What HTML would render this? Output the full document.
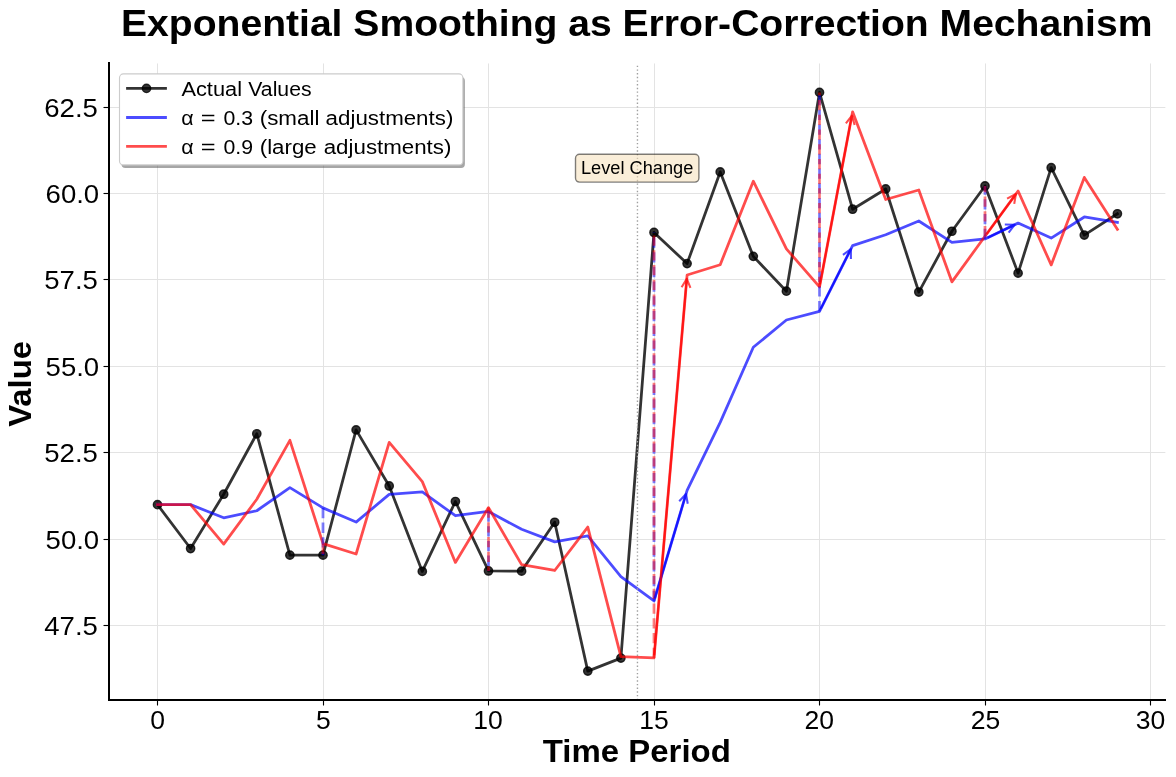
<!DOCTYPE html>
<html><head><meta charset="utf-8"><style>
html,body{margin:0;padding:0;background:#fff;overflow:hidden;width:1176px;height:777px;}
svg{display:block;will-change:transform;}
text{font-family:"Liberation Sans", sans-serif;fill:#000;}
</style></head><body>
<svg width="1176" height="777" viewBox="0 0 1176 777">
<rect width="1176" height="777" fill="#fff"/>
<line x1="157.50" y1="63.48" x2="157.50" y2="700.05" stroke="#e3e3e3" stroke-width="1"/>
<line x1="323.50" y1="63.48" x2="323.50" y2="700.05" stroke="#e3e3e3" stroke-width="1"/>
<line x1="488.50" y1="63.48" x2="488.50" y2="700.05" stroke="#e3e3e3" stroke-width="1"/>
<line x1="654.50" y1="63.48" x2="654.50" y2="700.05" stroke="#e3e3e3" stroke-width="1"/>
<line x1="819.50" y1="63.48" x2="819.50" y2="700.05" stroke="#e3e3e3" stroke-width="1"/>
<line x1="985.50" y1="63.48" x2="985.50" y2="700.05" stroke="#e3e3e3" stroke-width="1"/>
<line x1="1150.50" y1="63.48" x2="1150.50" y2="700.05" stroke="#e3e3e3" stroke-width="1"/>
<line x1="109.50" y1="625.50" x2="1165.39" y2="625.50" stroke="#e3e3e3" stroke-width="1"/>
<line x1="109.50" y1="539.50" x2="1165.39" y2="539.50" stroke="#e3e3e3" stroke-width="1"/>
<line x1="109.50" y1="452.50" x2="1165.39" y2="452.50" stroke="#e3e3e3" stroke-width="1"/>
<line x1="109.50" y1="366.50" x2="1165.39" y2="366.50" stroke="#e3e3e3" stroke-width="1"/>
<line x1="109.50" y1="279.50" x2="1165.39" y2="279.50" stroke="#e3e3e3" stroke-width="1"/>
<line x1="109.50" y1="193.50" x2="1165.39" y2="193.50" stroke="#e3e3e3" stroke-width="1"/>
<line x1="109.50" y1="107.50" x2="1165.39" y2="107.50" stroke="#e3e3e3" stroke-width="1"/>
<polyline points="157.50,504.66 190.60,548.52 223.70,494.23 256.80,433.78 289.90,555.14 323.00,555.14 356.10,429.90 389.20,485.96 422.30,571.39 455.40,501.50 488.50,570.97 521.60,571.13 554.70,522.26 587.80,671.11 620.90,658.10 654.00,232.47 687.10,263.59 720.20,171.93 753.30,256.35 786.40,291.18 819.50,92.41 852.60,209.23 885.70,188.97 918.80,292.04 951.90,231.24 985.00,185.98 1018.10,273.13 1051.20,167.69 1084.30,235.12 1117.40,213.78" fill="none" stroke="#000" stroke-opacity="0.8" stroke-width="2.78" stroke-linejoin="round" stroke-linecap="square"/>
<circle cx="157.50" cy="504.66" r="4.17" fill="#000" fill-opacity="0.8" stroke="#000" stroke-opacity="0.8" stroke-width="1.39"/>
<circle cx="190.60" cy="548.52" r="4.17" fill="#000" fill-opacity="0.8" stroke="#000" stroke-opacity="0.8" stroke-width="1.39"/>
<circle cx="223.70" cy="494.23" r="4.17" fill="#000" fill-opacity="0.8" stroke="#000" stroke-opacity="0.8" stroke-width="1.39"/>
<circle cx="256.80" cy="433.78" r="4.17" fill="#000" fill-opacity="0.8" stroke="#000" stroke-opacity="0.8" stroke-width="1.39"/>
<circle cx="289.90" cy="555.14" r="4.17" fill="#000" fill-opacity="0.8" stroke="#000" stroke-opacity="0.8" stroke-width="1.39"/>
<circle cx="323.00" cy="555.14" r="4.17" fill="#000" fill-opacity="0.8" stroke="#000" stroke-opacity="0.8" stroke-width="1.39"/>
<circle cx="356.10" cy="429.90" r="4.17" fill="#000" fill-opacity="0.8" stroke="#000" stroke-opacity="0.8" stroke-width="1.39"/>
<circle cx="389.20" cy="485.96" r="4.17" fill="#000" fill-opacity="0.8" stroke="#000" stroke-opacity="0.8" stroke-width="1.39"/>
<circle cx="422.30" cy="571.39" r="4.17" fill="#000" fill-opacity="0.8" stroke="#000" stroke-opacity="0.8" stroke-width="1.39"/>
<circle cx="455.40" cy="501.50" r="4.17" fill="#000" fill-opacity="0.8" stroke="#000" stroke-opacity="0.8" stroke-width="1.39"/>
<circle cx="488.50" cy="570.97" r="4.17" fill="#000" fill-opacity="0.8" stroke="#000" stroke-opacity="0.8" stroke-width="1.39"/>
<circle cx="521.60" cy="571.13" r="4.17" fill="#000" fill-opacity="0.8" stroke="#000" stroke-opacity="0.8" stroke-width="1.39"/>
<circle cx="554.70" cy="522.26" r="4.17" fill="#000" fill-opacity="0.8" stroke="#000" stroke-opacity="0.8" stroke-width="1.39"/>
<circle cx="587.80" cy="671.11" r="4.17" fill="#000" fill-opacity="0.8" stroke="#000" stroke-opacity="0.8" stroke-width="1.39"/>
<circle cx="620.90" cy="658.10" r="4.17" fill="#000" fill-opacity="0.8" stroke="#000" stroke-opacity="0.8" stroke-width="1.39"/>
<circle cx="654.00" cy="232.47" r="4.17" fill="#000" fill-opacity="0.8" stroke="#000" stroke-opacity="0.8" stroke-width="1.39"/>
<circle cx="687.10" cy="263.59" r="4.17" fill="#000" fill-opacity="0.8" stroke="#000" stroke-opacity="0.8" stroke-width="1.39"/>
<circle cx="720.20" cy="171.93" r="4.17" fill="#000" fill-opacity="0.8" stroke="#000" stroke-opacity="0.8" stroke-width="1.39"/>
<circle cx="753.30" cy="256.35" r="4.17" fill="#000" fill-opacity="0.8" stroke="#000" stroke-opacity="0.8" stroke-width="1.39"/>
<circle cx="786.40" cy="291.18" r="4.17" fill="#000" fill-opacity="0.8" stroke="#000" stroke-opacity="0.8" stroke-width="1.39"/>
<circle cx="819.50" cy="92.41" r="4.17" fill="#000" fill-opacity="0.8" stroke="#000" stroke-opacity="0.8" stroke-width="1.39"/>
<circle cx="852.60" cy="209.23" r="4.17" fill="#000" fill-opacity="0.8" stroke="#000" stroke-opacity="0.8" stroke-width="1.39"/>
<circle cx="885.70" cy="188.97" r="4.17" fill="#000" fill-opacity="0.8" stroke="#000" stroke-opacity="0.8" stroke-width="1.39"/>
<circle cx="918.80" cy="292.04" r="4.17" fill="#000" fill-opacity="0.8" stroke="#000" stroke-opacity="0.8" stroke-width="1.39"/>
<circle cx="951.90" cy="231.24" r="4.17" fill="#000" fill-opacity="0.8" stroke="#000" stroke-opacity="0.8" stroke-width="1.39"/>
<circle cx="985.00" cy="185.98" r="4.17" fill="#000" fill-opacity="0.8" stroke="#000" stroke-opacity="0.8" stroke-width="1.39"/>
<circle cx="1018.10" cy="273.13" r="4.17" fill="#000" fill-opacity="0.8" stroke="#000" stroke-opacity="0.8" stroke-width="1.39"/>
<circle cx="1051.20" cy="167.69" r="4.17" fill="#000" fill-opacity="0.8" stroke="#000" stroke-opacity="0.8" stroke-width="1.39"/>
<circle cx="1084.30" cy="235.12" r="4.17" fill="#000" fill-opacity="0.8" stroke="#000" stroke-opacity="0.8" stroke-width="1.39"/>
<circle cx="1117.40" cy="213.78" r="4.17" fill="#000" fill-opacity="0.8" stroke="#000" stroke-opacity="0.8" stroke-width="1.39"/>
<polyline points="157.50,504.66 190.60,504.66 223.70,517.82 256.80,510.74 289.90,487.65 323.00,507.90 356.10,522.07 389.20,494.42 422.30,491.88 455.40,515.74 488.50,511.46 521.60,529.32 554.70,541.86 587.80,535.98 620.90,576.52 654.00,600.99 687.10,490.44 720.20,422.38 753.30,347.25 786.40,319.98 819.50,311.34 852.60,245.66 885.70,234.73 918.80,221.00 951.90,242.31 985.00,238.99 1018.10,223.09 1051.20,238.10 1084.30,216.98 1117.40,222.42" fill="none" stroke="#0000ff" stroke-opacity="0.7" stroke-width="2.78" stroke-linejoin="round" stroke-linecap="square"/>
<polyline points="157.50,504.66 190.60,504.66 223.70,544.13 256.80,499.22 289.90,440.32 323.00,543.66 356.10,553.99 389.20,442.31 422.30,481.60 455.40,562.41 488.50,507.59 521.60,564.64 554.70,570.48 587.80,527.08 620.90,656.71 654.00,657.96 687.10,275.02 720.20,264.73 753.30,181.21 786.40,248.84 819.50,286.95 852.60,111.86 885.70,199.49 918.80,190.03 951.90,281.84 985.00,236.30 1018.10,191.01 1051.20,264.92 1084.30,177.41 1117.40,229.35" fill="none" stroke="#ff0000" stroke-opacity="0.7" stroke-width="2.78" stroke-linejoin="round" stroke-linecap="square"/>
<line x1="637.45" y1="700.05" x2="637.45" y2="63.48" stroke="#a0a0a0" stroke-width="1.39" stroke-dasharray="1.39 2.29"/>
<line x1="323.00" y1="507.90" x2="323.00" y2="555.14" stroke="#0000ff" stroke-opacity="0.5" stroke-width="2.78" stroke-dasharray="10.28 4.44"/>
<line x1="323.00" y1="543.66" x2="323.00" y2="555.14" stroke="#ff0000" stroke-opacity="0.5" stroke-width="2.78" stroke-dasharray="10.28 4.44"/>
<line x1="488.50" y1="511.46" x2="488.50" y2="570.97" stroke="#0000ff" stroke-opacity="0.5" stroke-width="2.78" stroke-dasharray="10.28 4.44"/>
<line x1="488.50" y1="507.59" x2="488.50" y2="570.97" stroke="#ff0000" stroke-opacity="0.5" stroke-width="2.78" stroke-dasharray="10.28 4.44"/>
<line x1="654.00" y1="600.99" x2="654.00" y2="232.47" stroke="#0000ff" stroke-opacity="0.5" stroke-width="2.78" stroke-dasharray="10.28 4.44"/>
<line x1="654.00" y1="657.96" x2="654.00" y2="232.47" stroke="#ff0000" stroke-opacity="0.5" stroke-width="2.78" stroke-dasharray="10.28 4.44"/>
<line x1="819.50" y1="311.34" x2="819.50" y2="92.41" stroke="#0000ff" stroke-opacity="0.5" stroke-width="2.78" stroke-dasharray="10.28 4.44"/>
<line x1="819.50" y1="286.95" x2="819.50" y2="92.41" stroke="#ff0000" stroke-opacity="0.5" stroke-width="2.78" stroke-dasharray="10.28 4.44"/>
<line x1="985.00" y1="238.99" x2="985.00" y2="185.98" stroke="#0000ff" stroke-opacity="0.5" stroke-width="2.78" stroke-dasharray="10.28 4.44"/>
<line x1="985.00" y1="236.30" x2="985.00" y2="185.98" stroke="#ff0000" stroke-opacity="0.5" stroke-width="2.78" stroke-dasharray="10.28 4.44"/>
<path d="M654.80 598.33 L686.03 494.01 M687.74 503.80 L686.03 494.01 L679.22 501.25" fill="none" stroke="#0000ff" stroke-opacity="0.7" stroke-width="2.08" stroke-linejoin="round" stroke-linecap="butt"/>
<path d="M654.24 655.19 L686.78 278.73 M690.44 287.97 L686.78 278.73 L681.59 287.21" fill="none" stroke="#ff0000" stroke-opacity="0.7" stroke-width="2.08" stroke-linejoin="round" stroke-linecap="butt"/>
<path d="M820.75 308.86 L850.92 248.99 M850.89 258.93 L850.92 248.99 L842.95 254.93" fill="none" stroke="#0000ff" stroke-opacity="0.7" stroke-width="2.08" stroke-linejoin="round" stroke-linecap="butt"/>
<path d="M820.02 284.21 L851.91 115.53 M854.62 125.08 L851.91 115.53 L845.89 123.43" fill="none" stroke="#ff0000" stroke-opacity="0.7" stroke-width="2.08" stroke-linejoin="round" stroke-linecap="butt"/>
<path d="M987.51 237.79 L1014.74 224.70 M1008.65 232.56 L1014.74 224.70 L1004.81 224.54" fill="none" stroke="#0000ff" stroke-opacity="0.7" stroke-width="2.08" stroke-linejoin="round" stroke-linecap="butt"/>
<path d="M986.64 234.05 L1015.90 194.02 M1014.24 203.82 L1015.90 194.02 L1007.07 198.57" fill="none" stroke="#ff0000" stroke-opacity="0.7" stroke-width="2.08" stroke-linejoin="round" stroke-linecap="butt"/>
<line x1="109.00" y1="700.00" x2="109.00" y2="63.00" stroke="#000" stroke-width="2.00" stroke-linecap="square"/>
<line x1="109.00" y1="700.00" x2="1165.00" y2="700.00" stroke="#000" stroke-width="2.00" stroke-linecap="square"/>
<line x1="157.50" y1="700.00" x2="157.50" y2="705.50" stroke="#000" stroke-width="1.11"/>
<line x1="323.50" y1="700.00" x2="323.50" y2="705.50" stroke="#000" stroke-width="1.11"/>
<line x1="488.50" y1="700.00" x2="488.50" y2="705.50" stroke="#000" stroke-width="1.11"/>
<line x1="654.50" y1="700.00" x2="654.50" y2="705.50" stroke="#000" stroke-width="1.11"/>
<line x1="819.50" y1="700.00" x2="819.50" y2="705.50" stroke="#000" stroke-width="1.11"/>
<line x1="985.50" y1="700.00" x2="985.50" y2="705.50" stroke="#000" stroke-width="1.11"/>
<line x1="1150.50" y1="700.00" x2="1150.50" y2="705.50" stroke="#000" stroke-width="1.11"/>
<line x1="109.00" y1="625.50" x2="103.50" y2="625.50" stroke="#000" stroke-width="1.11"/>
<line x1="109.00" y1="539.50" x2="103.50" y2="539.50" stroke="#000" stroke-width="1.11"/>
<line x1="109.00" y1="452.50" x2="103.50" y2="452.50" stroke="#000" stroke-width="1.11"/>
<line x1="109.00" y1="366.50" x2="103.50" y2="366.50" stroke="#000" stroke-width="1.11"/>
<line x1="109.00" y1="279.50" x2="103.50" y2="279.50" stroke="#000" stroke-width="1.11"/>
<line x1="109.00" y1="193.50" x2="103.50" y2="193.50" stroke="#000" stroke-width="1.11"/>
<line x1="109.00" y1="107.50" x2="103.50" y2="107.50" stroke="#000" stroke-width="1.11"/>
<text x="150.21" y="729.10" font-size="25.50" text-anchor="start" textLength="14.75" lengthAdjust="spacingAndGlyphs">0</text>
<text x="316.07" y="729.10" font-size="25.50" text-anchor="start" textLength="14.75" lengthAdjust="spacingAndGlyphs">5</text>
<text x="473.25" y="729.10" font-size="25.50" text-anchor="start" textLength="29.50" lengthAdjust="spacingAndGlyphs">10</text>
<text x="639.38" y="729.10" font-size="25.50" text-anchor="start" textLength="29.50" lengthAdjust="spacingAndGlyphs">15</text>
<text x="804.52" y="729.10" font-size="25.50" text-anchor="start" textLength="29.50" lengthAdjust="spacingAndGlyphs">20</text>
<text x="970.65" y="729.10" font-size="25.50" text-anchor="start" textLength="29.50" lengthAdjust="spacingAndGlyphs">25</text>
<text x="1135.65" y="729.10" font-size="25.50" text-anchor="start" textLength="29.50" lengthAdjust="spacingAndGlyphs">30</text>
<text x="44.30" y="635.00" font-size="25.50" text-anchor="start" textLength="53.60" lengthAdjust="spacingAndGlyphs">47.5</text>
<text x="45.60" y="549.00" font-size="25.50" text-anchor="start" textLength="53.60" lengthAdjust="spacingAndGlyphs">50.0</text>
<text x="44.30" y="462.00" font-size="25.50" text-anchor="start" textLength="53.60" lengthAdjust="spacingAndGlyphs">52.5</text>
<text x="45.60" y="376.00" font-size="25.50" text-anchor="start" textLength="53.60" lengthAdjust="spacingAndGlyphs">55.0</text>
<text x="44.30" y="289.00" font-size="25.50" text-anchor="start" textLength="53.60" lengthAdjust="spacingAndGlyphs">57.5</text>
<text x="45.60" y="203.00" font-size="25.50" text-anchor="start" textLength="53.60" lengthAdjust="spacingAndGlyphs">60.0</text>
<text x="44.30" y="117.00" font-size="25.50" text-anchor="start" textLength="53.60" lengthAdjust="spacingAndGlyphs">62.5</text>
<text x="120.99" y="36.00" font-size="36.20" text-anchor="start" font-weight="bold" textLength="1031.45" lengthAdjust="spacingAndGlyphs">Exponential Smoothing as Error-Correction Mechanism</text>
<text x="542.77" y="761.90" font-size="30.50" text-anchor="start" font-weight="bold" textLength="188.09" lengthAdjust="spacingAndGlyphs">Time Period</text>
<g transform="translate(30.90 0) rotate(-90)"><text x="-426.70" y="0.00" font-size="30.50" text-anchor="start" font-weight="bold" textLength="85.68" lengthAdjust="spacingAndGlyphs">Value</text></g>
<rect x="121.50" y="76.90" width="343.40" height="91.00" rx="3.9" fill="#4d4d4d" fill-opacity="0.5"/>
<rect x="119.50" y="73.90" width="343.40" height="91.00" rx="3.9" fill="#fff" stroke="#cccccc" stroke-width="1.11"/>
<line x1="127.50" y1="88.40" x2="165.50" y2="88.40" stroke="#000" stroke-opacity="0.8" stroke-width="2.78" stroke-linecap="square"/>
<circle cx="146.50" cy="88.40" r="4.17" fill="#000" fill-opacity="0.8" stroke="#000" stroke-opacity="0.8" stroke-width="1.39"/>
<line x1="127.50" y1="117.50" x2="165.50" y2="117.50" stroke="#0000ff" stroke-opacity="0.7" stroke-width="2.78" stroke-linecap="square"/>
<line x1="127.50" y1="146.40" x2="165.50" y2="146.40" stroke="#ff0000" stroke-opacity="0.7" stroke-width="2.78" stroke-linecap="square"/>
<text x="181.40" y="95.80" font-size="20.00" text-anchor="start" textLength="60.59" lengthAdjust="spacingAndGlyphs">Actual</text>
<text x="248.30" y="95.80" font-size="20.00" text-anchor="start" textLength="63.21" lengthAdjust="spacingAndGlyphs">Values</text>
<text x="181.15" y="124.80" font-size="20.00" text-anchor="start" textLength="12.36" lengthAdjust="spacingAndGlyphs">&#945;</text>
<text x="200.78" y="124.80" font-size="20.00" text-anchor="start" textLength="14.84" lengthAdjust="spacingAndGlyphs">=</text>
<text x="223.46" y="124.80" font-size="20.00" text-anchor="start" textLength="29.59" lengthAdjust="spacingAndGlyphs">0.3</text>
<text x="259.76" y="124.80" font-size="20.00" text-anchor="start" textLength="59.63" lengthAdjust="spacingAndGlyphs">(small</text>
<text x="325.61" y="124.80" font-size="20.00" text-anchor="start" textLength="127.71" lengthAdjust="spacingAndGlyphs">adjustments)</text>
<text x="181.15" y="153.80" font-size="20.00" text-anchor="start" textLength="12.36" lengthAdjust="spacingAndGlyphs">&#945;</text>
<text x="200.78" y="153.80" font-size="20.00" text-anchor="start" textLength="14.84" lengthAdjust="spacingAndGlyphs">=</text>
<text x="223.46" y="153.80" font-size="20.00" text-anchor="start" textLength="29.59" lengthAdjust="spacingAndGlyphs">0.9</text>
<text x="259.76" y="153.80" font-size="20.00" text-anchor="start" textLength="56.95" lengthAdjust="spacingAndGlyphs">(large</text>
<text x="323.71" y="153.80" font-size="20.00" text-anchor="start" textLength="127.71" lengthAdjust="spacingAndGlyphs">adjustments)</text>
<rect x="575.50" y="154.30" width="123.40" height="27.80" rx="4.00" fill="#f5deb3" fill-opacity="0.5" stroke="#000" stroke-opacity="0.5" stroke-width="1.39"/>
<text x="580.94" y="173.80" font-size="18.90" text-anchor="start" textLength="112.41" lengthAdjust="spacingAndGlyphs">Level Change</text>
</svg>
</body></html>
